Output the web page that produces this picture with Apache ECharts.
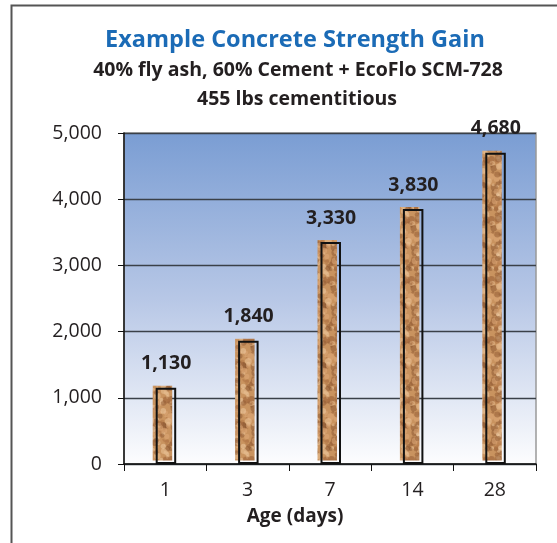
<!DOCTYPE html>
<html>
<head>
<meta charset="utf-8">
<script src="https://cdn.jsdelivr.net/npm/echarts@6/dist/echarts.min.js"></script>
<style>html,body{margin:0;padding:0;background:#fff}#c{width:557px;height:543px}</style>
</head>
<body>
<div id="c"></div>
<script>
const categories = ['1', '3', '7', '14', '28'];
const strength = [1130, 1840, 3330, 3830, 4680];
const yTicks = [0, 1000, 2000, 3000, 4000, 5000];
const titleText = 'Example Concrete Strength Gain';
const subtitleLines = ['40% fly ash, 60% Cement + EcoFlo SCM-728', '455 lbs cementitious'];
const xName = 'Age (days)';

// deterministic blotchy "concrete" texture
function makeTexture() {
  const W = 40, H = 60;
  const cv = document.createElement('canvas');
  cv.width = W; cv.height = H;
  const ctx = cv.getContext('2d');
  ctx.fillStyle = '#c9935f';
  ctx.fillRect(0, 0, W, H);
  const pal = ['rgba(150,95,55,0.55)', 'rgba(232,190,145,0.6)', 'rgba(175,115,70,0.5)',
               'rgba(222,170,120,0.55)', 'rgba(130,80,45,0.45)', 'rgba(240,205,165,0.5)'];
  const hash = (n, s) => { const v = Math.sin(n * s) * 43758.5453; return v - Math.floor(v); };
  for (let i = 0; i < 160; i++) {
    const x = hash(i + 1, 12.9898) * W, y = hash(i + 1, 78.233) * H;
    const r = 1 + hash(i + 1, 39.346) * 2.6;
    ctx.fillStyle = pal[Math.floor(hash(i + 1, 11.135) * pal.length)];
    for (const dx of [-W, 0, W]) for (const dy of [-H, 0, H]) {
      ctx.beginPath(); ctx.arc(x + dx, y + dy, r, 0, Math.PI * 2); ctx.fill();
    }
  }
  return cv;
}
const tex = makeTexture();

const chart = echarts.init(document.getElementById('c'));
const fmt = v => v.toLocaleString('en-US');

chart.setOption({
  backgroundColor: '#ffffff',
  animation: false,
  title: [
    { text: titleText, left: 290, top: 23, textAlign: 'center',
      textStyle: { fontFamily: 'Open Sans', fontWeight: 'bold', fontSize: 23.5, color: '#1b6bb6' } },
    { text: subtitleLines[0], left: 293, top: 55, textAlign: 'center',
      textStyle: { fontFamily: 'Open Sans', fontWeight: 'bold', fontSize: 19.5, color: '#231f20' } },
    { text: subtitleLines[1], left: 292, top: 84, textAlign: 'center',
      textStyle: { fontFamily: 'Open Sans', fontWeight: 'bold', fontSize: 19.5, color: '#231f20' } }
  ],
  graphic: [
    { type: 'rect', z: 100, shape: { x: 11.5, y: 5.5, width: 800, height: 800 },
      style: { fill: 'none', stroke: '#555', lineWidth: 2 } }
  ],
  grid: {
    left: 124, right: 21, top: 133, bottom: 79, show: true,
    borderColor: '#999', borderWidth: 1.5,
    backgroundColor: { type: 'linear', x: 0, y: 0, x2: 0, y2: 1,
      colorStops: [{ offset: 0, color: '#7a9dd3' }, { offset: 0.5, color: '#b7c7e6' }, { offset: 1, color: '#fdfdfe' }] }
  },
  xAxis: {
    type: 'category', data: categories,
    name: xName, nameLocation: 'middle', nameGap: 43,
    nameTextStyle: { fontFamily: 'Open Sans', fontWeight: 'bold', fontSize: 19, color: '#231f20', padding: [0, 70, 0, 0] },
    axisLine: { lineStyle: { color: '#111', width: 1.5 } },
    axisTick: { show: true, length: 7, lineStyle: { color: '#111', width: 1 } },
    axisLabel: { margin: 16, fontFamily: 'Open Sans', fontSize: 19.5, color: '#231f20' }
  },
  yAxis: {
    type: 'value', min: 0, max: 5000, interval: 1000,
    axisLine: { show: true, lineStyle: { color: '#111', width: 1.5 } },
    axisTick: { show: true, length: 6, lineStyle: { color: '#111', width: 1 } },
    axisLabel: { margin: 22, fontFamily: 'Open Sans', fontSize: 19.5, color: '#231f20', formatter: v => fmt(v) },
    splitLine: { show: true, lineStyle: { color: '#3a4048', width: 1.3 } }
  },
  series: [{
    type: 'custom',
    data: strength.map((v, i) => [i, v]),
    encode: { x: 0, y: 1 },
    renderItem: function (params, api) {
      const top = api.coord([api.value(0), api.value(1)]);
      const base = api.coord([api.value(0), 0]);
      const c = top[0], ty = top[1], by = base[1];
      return {
        type: 'group',
        children: [
          { type: 'rect', shape: { x: c - 12.5, y: ty - 3.5, width: 19.5, height: by - ty },
            style: { fill: { image: tex, repeat: 'repeat' } } },
          { type: 'rect', shape: { x: c - 8.5, y: ty - 0.5, width: 18.5, height: by - ty - 0.5 },
            style: { fill: 'none', stroke: '#111', lineWidth: 2 } },
          { type: 'text', x: c + 1, y: ty - 25.5,
            style: { text: fmt(api.value(1)), align: 'center', verticalAlign: 'middle',
              fontFamily: 'Open Sans', fontWeight: 'bold', fontSize: 19.5, fill: '#231f20' } }
        ]
      };
    }
  }]
});
</script>
</body>
</html>
